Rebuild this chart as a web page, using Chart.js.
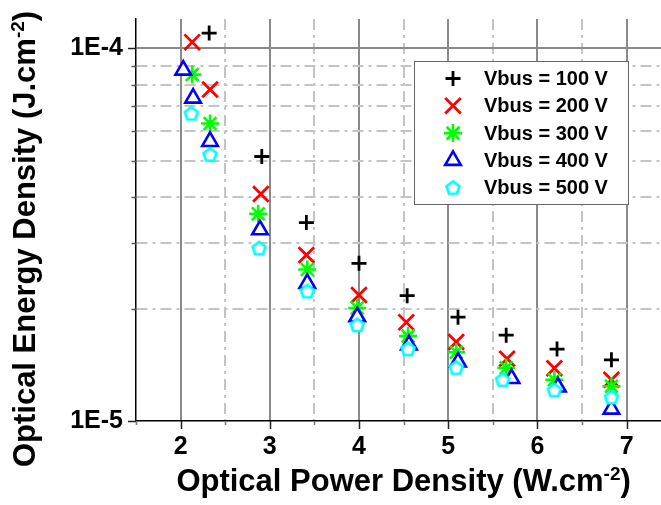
<!DOCTYPE html>
<html><head><meta charset="utf-8">
<script src="https://cdn.jsdelivr.net/npm/chart.js@4.4.1/dist/chart.umd.min.js"></script>
<style>html,body{margin:0;padding:0;overflow:hidden;background:#fff;width:661px;height:505px}canvas{display:block}</style>
</head><body>
<canvas id="c" width="685" height="505"></canvas>
<script>
// ---- data ----
const seriesNames = ['Vbus = 100 V', 'Vbus = 200 V', 'Vbus = 300 V', 'Vbus = 400 V', 'Vbus = 500 V'];
const seriesColors = ['#000000', '#ff0000', '#00ff00', '#0000ff', '#00ffff'];

const x100 = [2.32, 2.91, 3.41, 4.00, 4.54, 5.11, 5.65, 6.22, 6.83];
const y100 = [1.10e-4, 5.13e-5, 3.41e-5, 2.65e-5, 2.17e-5, 1.90e-5, 1.70e-5, 1.56e-5, 1.46e-5];

const x200 = [2.13, 2.33, 2.90, 3.41, 4.00, 4.53, 5.09, 5.66, 6.19, 6.83];
const y200 = [1.04e-4, 7.76e-5, 4.07e-5, 2.79e-5, 2.18e-5, 1.84e-5, 1.63e-5, 1.47e-5, 1.385e-5, 1.29e-5];

const x300 = [2.13, 2.33, 2.87, 3.42, 3.98, 4.55, 5.09, 5.65, 6.19, 6.83];
const y300 = [8.51e-5, 6.29e-5, 3.60e-5, 2.55e-5, 2.01e-5, 1.69e-5, 1.53e-5, 1.39e-5, 1.29e-5, 1.24e-5];

const x400 = [2.03, 2.14, 2.33, 2.89, 3.42, 3.98, 4.56, 5.11, 5.71, 6.23, 6.83];
const y400 = [8.75e-5, 7.36e-5, 5.63e-5, 3.26e-5, 2.34e-5, 1.905e-5, 1.60e-5, 1.44e-5, 1.30e-5, 1.234e-5, 1.076e-5];

const x500 = [2.12, 2.33, 2.88, 3.42, 3.98, 4.55, 5.09, 5.61, 6.19, 6.83];
const y500 = [6.69e-5, 5.19e-5, 2.91e-5, 2.23e-5, 1.81e-5, 1.56e-5, 1.39e-5, 1.29e-5, 1.21e-5, 1.158e-5];

const xTickValues = [1.5, 2, 2.5, 3, 3.5, 4, 4.5, 5, 5.5, 6, 6.5, 7, 7.5];
const xTickLabels = ['2', '3', '4', '5', '6', '7'];
const yTickValues = [1e-5, 2e-5, 3e-5, 4e-5, 5e-5, 6e-5, 7e-5, 8e-5, 9e-5, 1e-4];
const yMajorValues = [1e-5, 1e-4];
const yTickLabels = ['1E-5', '1E-4'];

const xTitle = ['Optical Power Density (W.cm', '-2', ')'];
const yTitle = ['Optical Energy Density (J.cm', '-2', ')'];

// ---- styling ----
const FONT = "'Liberation Sans', Arial, Helvetica, sans-serif";
const X_MIN = 1.5, X_MAX = 7.5, Y_MIN = 1e-5, Y_MAX = 1.2e-4;

function makePentagon(color) {
  const c = document.createElement('canvas');
  c.width = 22; c.height = 22;
  const g = c.getContext('2d');
  const R = 6.8, cx = 11, cy = 11.5;
  g.beginPath();
  for (let k = 0; k < 5; k++) {
    const a = -Math.PI / 2 + k * 2 * Math.PI / 5;
    const px = cx + R * Math.cos(a), py = cy + R * Math.sin(a);
    if (k === 0) g.moveTo(px, py); else g.lineTo(px, py);
  }
  g.closePath();
  g.fillStyle = '#ffffff'; g.fill();
  g.lineWidth = 2.7; g.strokeStyle = color; g.lineJoin = 'miter'; g.stroke();
  return c;
}

const styles = [
  {pointStyle: 'cross', radius: 7.5, borderWidth: 2.8, bg: 'rgba(0,0,0,0)'},
  {pointStyle: 'crossRot', radius: 11, borderWidth: 2.8, bg: 'rgba(0,0,0,0)'},
  {pointStyle: 'star', radius: 9, borderWidth: 2.6, bg: 'rgba(0,0,0,0)'},
  {pointStyle: 'triangle', radius: 9, borderWidth: 2.6, bg: '#ffffff'},
  {pointStyle: makePentagon(seriesColors[4]), radius: 8, borderWidth: 2.6, bg: '#ffffff'}
];

const xs = [x100, x200, x300, x400, x500];
const ys = [y100, y200, y300, y400, y500];

const datasets = seriesNames.map((name, i) => ({
  label: name,
  data: xs[i].map((x, j) => ({x: x, y: ys[i][j]})),
  showLine: false,
  pointStyle: styles[i].pointStyle,
  pointRadius: styles[i].radius,
  pointHoverRadius: styles[i].radius,
  pointBorderWidth: styles[i].borderWidth,
  pointBorderColor: seriesColors[i],
  pointBackgroundColor: styles[i].bg,
  borderColor: seriesColors[i],
  backgroundColor: styles[i].bg,
  order: seriesNames.length - i
}));

const near = (a, b) => Math.abs(a - b) < 1e-9 * Math.max(1, Math.abs(b));
const isInt = v => near(v, Math.round(v));
const isYMajor = v => yMajorValues.some(m => near(v, m));

const DASH = [11, 5, 3, 5];

const decorPlugin = {
  id: 'decor',
  afterDraw(chart) {
    const ctx = chart.ctx;
    const xs_ = chart.scales.x, ys_ = chart.scales.y;
    const area = chart.chartArea;
    ctx.save();
    // tick marks (outside)
    ctx.lineWidth = 1.5;
    xs_.ticks.forEach(t => {
      const p = Math.round(xs_.getPixelForValue(t.value)) + 0.5;
      const len = isInt(t.value) ? 8 : 4;
      ctx.strokeStyle = isInt(t.value) ? '#222' : '#777';
      ctx.beginPath(); ctx.moveTo(p, area.bottom); ctx.lineTo(p, area.bottom + len); ctx.stroke();
    });
    ys_.ticks.forEach(t => {
      const p = Math.round(ys_.getPixelForValue(t.value)) + 0.5;
      const len = isYMajor(t.value) ? 8 : 4.5;
      ctx.strokeStyle = isYMajor(t.value) ? '#222' : '#555';
      ctx.beginPath(); ctx.moveTo(area.left, p); ctx.lineTo(area.left - len, p); ctx.stroke();
    });

    // axis titles with superscript
    function rich(parts, cx, baseY) {
      const fonts = ['bold 31px ' + FONT, 'bold 19px ' + FONT, 'bold 31px ' + FONT];
      const dys = [0, -11, 0];
      let total = 0;
      const widths = parts.map((s, k) => { ctx.font = fonts[k]; const w = ctx.measureText(s).width; total += w; return w; });
      let x = cx - total / 2;
      ctx.fillStyle = '#000';
      ctx.textBaseline = 'alphabetic';
      ctx.textAlign = 'left';
      parts.forEach((s, k) => { ctx.font = fonts[k]; ctx.fillText(s, x, baseY + dys[k]); x += widths[k]; });
    }
    rich(xTitle, (area.left + area.right) / 2, 491);
    ctx.save();
    ctx.translate(35, 239);
    ctx.rotate(-Math.PI / 2);
    rich(yTitle, 0, 0);
    ctx.restore();

    // legend
    const bx = 414.5, by = 61.5, bw = 214, bh = 143;
    ctx.fillStyle = '#ffffff';
    ctx.fillRect(bx, by, bw, bh);
    ctx.lineWidth = 1;
    ctx.strokeStyle = '#666';
    ctx.strokeRect(bx, by, bw, bh);
    chart.data.datasets.forEach((ds, i) => {
      const yy = 78.5 + i * 27.3;
      ctx.save();
      ctx.strokeStyle = ds.pointBorderColor;
      ctx.fillStyle = ds.pointBackgroundColor;
      ctx.lineWidth = ds.pointBorderWidth;
      Chart.helpers.drawPoint(ctx, {pointStyle: ds.pointStyle, radius: ds.pointRadius, rotation: 0, borderWidth: ds.pointBorderWidth}, 453, yy);
      ctx.restore();
      ctx.fillStyle = '#000';
      ctx.font = 'bold 20px ' + FONT;
      ctx.textAlign = 'left';
      ctx.textBaseline = 'middle';
      ctx.fillText(ds.label, 484, yy + 1);
    });
    ctx.restore();
  }
};

function fixX(s) {
  s.height = 84; s.paddingLeft = 0; s.paddingRight = 0;
}
function fixY(s) {
  s.width = 136; s.paddingTop = 0; s.paddingBottom = 0;
}

new Chart(document.getElementById('c'), {
  type: 'scatter',
  data: {datasets: datasets},
  plugins: [decorPlugin],
  options: {
    responsive: false,
    animation: false,
    devicePixelRatio: 1,
    layout: {padding: {top: 19, right: 1, left: 0, bottom: 0}},
    plugins: {legend: {display: false}, tooltip: {enabled: false}},
    scales: {
      x: {
        type: 'linear', min: X_MIN, max: X_MAX,
        afterBuildTicks: s => { s.ticks = xTickValues.map(v => ({value: v})); },
        afterFit: fixX,
        ticks: {
          autoSkip: false, maxRotation: 0, padding: 11, color: '#000',
          font: {family: FONT, weight: 'bold', size: 25},
          callback: v => isInt(v) ? (xTickLabels[Math.round(v) - 2] || '') : ''
        },
        grid: {
          drawTicks: false,
          lineWidth: 2,
          color: c => {
            if (!c.tick) return 'rgba(0,0,0,0)';
            const v = c.tick.value;
            if (near(v, X_MIN) || near(v, X_MAX)) return 'rgba(0,0,0,0)';
            return isInt(v) ? '#8a8a8a' : '#c4c4c4';
          }
        },
        border: {
          display: true, color: '#000', width: 1.5,
          dash: c => (c.tick && !isInt(c.tick.value)) ? DASH : []
        }
      },
      y: {
        type: 'logarithmic', min: Y_MIN, max: Y_MAX,
        afterBuildTicks: s => { s.ticks = yTickValues.map(v => ({value: v, major: isYMajor(v)})); },
        afterFit: fixY,
        ticks: {
          autoSkip: false, padding: 13, color: '#000',
          font: {family: FONT, weight: 'bold', size: 25},
          callback: v => { const k = yMajorValues.findIndex(m => near(v, m)); return k >= 0 ? yTickLabels[k] : ''; }
        },
        grid: {
          drawTicks: false,
          lineWidth: 2,
          color: c => {
            if (!c.tick) return 'rgba(0,0,0,0)';
            const v = c.tick.value;
            if (near(v, Y_MIN)) return 'rgba(0,0,0,0)';
            return isYMajor(v) ? '#8a8a8a' : '#c4c4c4';
          }
        },
        border: {
          display: true, color: '#000', width: 1.5,
          dash: c => (c.tick && !isYMajor(c.tick.value)) ? DASH : []
        }
      }
    }
  }
});
</script>
</body></html>
